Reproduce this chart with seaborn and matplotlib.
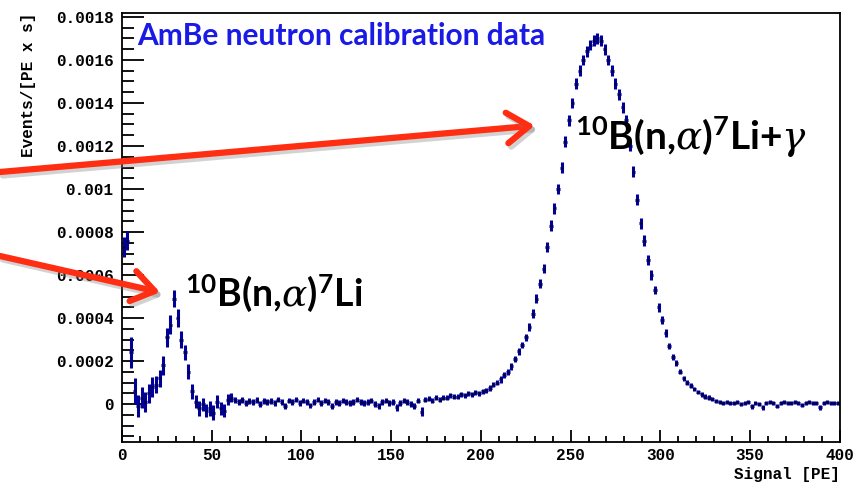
import numpy as np
import pandas as pd
import matplotlib.pyplot as plt
import seaborn as sns
from matplotlib import patheffects as pe
from matplotlib.ticker import MultipleLocator, FuncFormatter

# bin centres (2 PE bins) and rate per bin in units of 1e-4 events/[PE x s]
bin_centers = np.arange(1, 400, 2)
rate = [
    7.3, 7.6, 2.4, 0.6, -0.1, 0.3, 0.1, 0.5, 0.8, 0.9,
    1.2, 1.8, 3.1, 3.7, 4.9, 4.0, 3.0, 2.4, 1.5, 0.6,
    0.1, -0.2, 0.0, -0.3, -0.2, -0.4, 0.1, -0.2, -0.3, 0.2,
    0.3, 0.2, 0.1, 0.2, 0.05, 0.15, 0.1, 0.2, 0.0, 0.15,
    0.1, 0.15, 0.05, 0.2, 0.1, -0.1, 0.15, 0.1, 0.2, 0.05,
    0.15, 0.1, -0.05, 0.1, 0.2, 0.05, 0.15, 0.1, -0.1, 0.1,
    0.05, 0.15, 0.1, 0.05, 0.1, 0.2, 0.1, 0.05, 0.1, 0.15,
    0.0, -0.1, 0.1, 0.15, 0.05, 0.1, -0.15, 0.05, 0.15, 0.1,
    0.0, -0.1, 0.15, -0.35, 0.2, 0.25, 0.15, 0.3, 0.2, 0.3,
    0.3, 0.4, 0.35, 0.35, 0.45, 0.4, 0.5, 0.45, 0.55, 0.5,
    0.6, 0.65, 0.75, 0.9, 1.0, 1.15, 1.35, 1.5, 1.75, 2.1,
    2.45, 2.75, 3.1, 3.6, 4.2, 4.9, 5.6, 6.3, 7.3, 8.3,
    9.1, 10.0, 11.0, 12.2, 13.2, 14.0, 14.9, 15.5, 16.0, 16.4,
    16.7, 16.9, 17.0, 16.9, 16.5, 16.0, 15.5, 14.9, 14.4, 13.8,
    13.2, 12.0, 10.8, 9.5, 8.4, 7.6, 6.7, 6.0, 5.3, 4.5,
    3.9, 3.3, 2.7, 2.2, 1.9, 1.5, 1.2, 1.0, 0.85, 0.7,
    0.55, 0.45, 0.35, 0.3, 0.25, 0.15, 0.1, 0.05, 0.1, 0.05,
    0.05, 0.1, 0.0, 0.05, 0.1, -0.1, 0.05, 0.0, -0.15, 0.05,
    0.1, 0.05, -0.1, 0.05, 0.1, 0.05, 0.05, 0.1, 0.05, -0.05,
    0.05, 0.1, 0.05, 0.05, -0.15, 0.05, 0.1, 0.05, 0.05, 0.05,
]
rate_err = [
    0.45, 0.45, 0.7, 0.6, 0.5, 0.5, 0.45, 0.45, 0.45, 0.4,
    0.4, 0.45, 0.45, 0.45, 0.4, 0.4, 0.4, 0.35, 0.35, 0.35,
    0.3, 0.35, 0.3, 0.3, 0.35, 0.35, 0.3, 0.3, 0.3, 0.25,
    0.2, 0.15, 0.15, 0.15, 0.15, 0.15, 0.15, 0.15, 0.15, 0.15,
    0.15, 0.15, 0.12, 0.12, 0.12, 0.15, 0.12, 0.12, 0.12, 0.12,
    0.12, 0.12, 0.12, 0.12, 0.12, 0.12, 0.12, 0.12, 0.15, 0.12,
    0.12, 0.12, 0.12, 0.12, 0.12, 0.12, 0.12, 0.12, 0.12, 0.12,
    0.12, 0.15, 0.12, 0.12, 0.12, 0.12, 0.15, 0.12, 0.12, 0.12,
    0.12, 0.15, 0.12, 0.2, 0.12, 0.12, 0.12, 0.12, 0.12, 0.12,
    0.12, 0.12, 0.12, 0.12, 0.12, 0.12, 0.12, 0.12, 0.12, 0.12,
    0.12, 0.12, 0.12, 0.12, 0.12, 0.15, 0.15, 0.15, 0.15, 0.15,
    0.15, 0.15, 0.18, 0.18, 0.2, 0.2, 0.22, 0.22, 0.25, 0.25,
    0.25, 0.25, 0.25, 0.25, 0.25, 0.25, 0.25, 0.25, 0.25, 0.25,
    0.25, 0.25, 0.25, 0.25, 0.25, 0.25, 0.25, 0.25, 0.25, 0.25,
    0.25, 0.25, 0.25, 0.25, 0.25, 0.25, 0.22, 0.22, 0.2, 0.2,
    0.18, 0.18, 0.15, 0.15, 0.15, 0.12, 0.12, 0.12, 0.12, 0.1,
    0.1, 0.1, 0.1, 0.1, 0.1, 0.08, 0.08, 0.08, 0.08, 0.08,
    0.08, 0.08, 0.08, 0.08, 0.08, 0.12, 0.08, 0.08, 0.12, 0.08,
    0.08, 0.08, 0.1, 0.08, 0.08, 0.08, 0.08, 0.08, 0.08, 0.08,
    0.08, 0.08, 0.08, 0.08, 0.12, 0.08, 0.08, 0.08, 0.08, 0.08,
]

df = pd.DataFrame({"signal": bin_centers,
                   "rate": np.array(rate) * 1e-4,
                   "err": np.array(rate_err) * 1e-4})

sns.set_style("ticks")
plt.rcParams['font.family'] = ['Liberation Mono', 'DejaVu Sans']
plt.rcParams['font.weight'] = 'bold'
plt.rcParams['axes.labelweight'] = 'bold'
plt.rcParams['text.color'] = 'black'
plt.rcParams['axes.labelcolor'] = 'black'
plt.rcParams['xtick.color'] = 'black'
plt.rcParams['ytick.color'] = 'black'
plt.rcParams['mathtext.fontset'] = 'custom'
plt.rcParams['mathtext.rm'] = 'Lato:bold'
plt.rcParams['mathtext.bf'] = 'Lato:bold'
plt.rcParams['mathtext.it'] = 'DejaVu Serif:italic:normal'

fig, ax = plt.subplots(figsize=(8.56, 4.87), dpi=100)
fig.subplots_adjust(left=0.1425, right=0.981, bottom=0.093, top=0.974)

navy = '#000096'
ax.errorbar(df["signal"], df["rate"], yerr=df["err"], xerr=1, fmt='none',
            ecolor=navy, elinewidth=2.2, capsize=0, zorder=2)
sns.scatterplot(data=df, x="signal", y="rate", s=2, color='black',
                linewidth=0, ax=ax, zorder=3)

ax.set_xlim(0, 400)
ax.set_ylim(-0.000175, 0.00182)
ax.xaxis.set_major_locator(MultipleLocator(50))
ax.xaxis.set_minor_locator(MultipleLocator(10))
ax.yaxis.set_major_locator(MultipleLocator(0.0002))
ax.yaxis.set_minor_locator(MultipleLocator(0.00005))
ax.yaxis.set_major_formatter(FuncFormatter(lambda v, p: '%g' % round(v, 6)))
ax.tick_params(which='both', direction='in', top=False, right=False,
               width=1.3, labelsize=11.5, color='black', labelcolor='black')
ax.tick_params(axis='y', which='major', length=16, pad=6)
ax.tick_params(axis='y', which='minor', length=8.5)
ax.tick_params(axis='x', which='major', length=8.5, pad=4.5)
ax.tick_params(axis='x', which='minor', length=4.3)
for s in ax.spines.values():
    s.set_linewidth(1.3)
    s.set_color('black')

ax.set_xlabel('Signal [PE]', fontsize=11.5, fontweight='bold', loc='right',
              labelpad=3, color='black')
ax.set_ylabel('Events/[PE x s]', fontsize=11.5, fontweight='bold', loc='top',
              labelpad=14, color='black')

ax.text(8.4, 0.00171, 'AmBe neutron calibration data', color='#1a1ae6',
        fontsize=21.5, fontweight='bold', family='Lato', va='center')
ax.text(35, 0.00045, r'$^{10}$B(n,$\alpha$)$^{7}$Li', fontsize=27, color='black',
        fontweight='bold', family='Lato', va='baseline', zorder=5)
ax.text(252.4, 0.00118, r'$^{10}$B(n,$\alpha$)$^{7}$Li+$\gamma$', fontsize=28,
        color='black', fontweight='bold', family='Lato', va='baseline', zorder=5)

red = '#ff2d12'
shadow = [pe.SimpleLineShadow(offset=(2, -2.5), alpha=0.35, shadow_color='gray'), pe.Normal()]
for tip, tail in [((230, 0.001295), (0.0, (487 - 172) / 487)),
                  ((21.2, 0.00052), (0.0, (487 - 256) / 487))]:
    ann = ax.annotate('', xy=tip, xycoords='data', xytext=tail,
                      textcoords='figure fraction', annotation_clip=False,
                      arrowprops=dict(arrowstyle='->,head_length=0.8,head_width=0.55',
                                      lw=4.5, color=red, shrinkA=0, shrinkB=0,
                                      mutation_scale=20), zorder=6)
    ann.arrow_patch.set_path_effects(shadow)

fig.savefig('out.png', dpi=100)
